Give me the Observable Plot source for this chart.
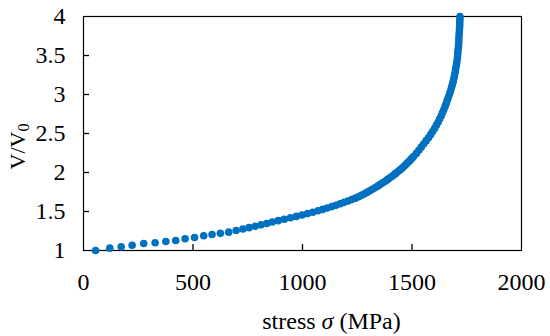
<!DOCTYPE html>
<html>
<head>
<meta charset="utf-8">
<script src="https://cdn.jsdelivr.net/npm/d3@7"></script>
<script src="https://cdn.jsdelivr.net/npm/@observablehq/plot@0.6"></script>
<style>
  html, body { margin: 0; padding: 0; background: #fff; }
</style>
</head>
<body>
<div id="chart"></div>
<script>
// Data
const stress = [55,120,172,222,275,327,376,421,464,507,549,587,625,663,697,
  728,756,784,811,837,862,889,917,945,972,998,1023,1047,1071,1092,1113,1134,1153,1172,1190,1208,1225,1242,1256,1269,
  1281,1294,1307,1319,1331,1343,1354,1365,1376,1386,1396,1406,1415,1424,1433,1442,1450,1458,1466,1473,1480,1487,1494,1501,1507,
  1520,1531,1542,1553,1564,1575,1585,1594,1603,1611,1619,1626,1633,1639,1645,1651,1656,1661,1666,1671,1676,1680,1684,1688,1691,1694,
  1697,1699,1702,1704,1706,1708,1709,1710,1712,1713,1714,1714,1715,1716,1717,1718,1718,1719,1719];
const ratio = [1.00,1.03,1.047,1.068,1.09,1.10,1.115,1.128,1.15,1.167,1.19,1.205,1.22,1.235,1.256,
  1.275,1.293,1.311,1.329,1.347,1.365,1.383,1.401,1.419,1.437,1.455,1.473,1.491,1.509,1.527,1.545,1.563,1.581,1.599,1.617,1.635,1.653,1.671,1.689,1.707,
  1.725,1.745,1.765,1.785,1.805,1.825,1.845,1.865,1.885,1.905,1.925,1.945,1.965,1.985,2.005,2.025,2.045,2.065,2.085,2.105,2.125,2.145,2.165,2.185,2.205,
  2.245,2.285,2.325,2.365,2.405,2.445,2.485,2.525,2.565,2.605,2.645,2.685,2.725,2.765,2.805,2.845,2.885,2.925,2.965,3.005,3.045,3.085,3.125,3.165,3.205,3.245,
  3.285,3.325,3.365,3.405,3.445,3.485,3.525,3.565,3.605,3.645,3.685,3.725,3.765,3.805,3.845,3.885,3.925,3.965,4.0];

const xTicks = [0, 500, 1000, 1500, 2000];
const yTicks = [1, 1.5, 2, 2.5, 3, 3.5, 4];
const xLabelParts = ["stress ", "σ", " (MPa)"];
const yLabelParts = ["V/V", "0"];

const points = stress.map((s, i) => ({stress: s, ratio: ratio[i]}));
const innerX = xTicks.slice(1, -1);
const innerY = yTicks.slice(1, -1);

const W = 550, H = 336, ML = 83, MR = 29, MT = 16, MB = 86;
const TICK = 6; // px
const xDom = [xTicks[0], xTicks[xTicks.length - 1]];
const yDom = [yTicks[0], yTicks[yTicks.length - 1]];
const tickLenX = TICK * (xDom[1] - xDom[0]) / (W - ML - MR); // y-axis tick length in x units
const tickLenY = TICK * (yDom[1] - yDom[0]) / (H - MT - MB); // x-axis tick length in y units

const plot = Plot.plot({
  width: W,
  height: H,
  marginLeft: ML,
  marginRight: MR,
  marginTop: MT,
  marginBottom: MB,
  style: {fontFamily: "'Liberation Serif', 'Times New Roman', serif", fontSize: "24px", color: "#000", background: "#fff"},
  x: {domain: xDom},
  y: {domain: yDom},
  marks: [
    Plot.ruleX(innerX, {x: d => d, y1: yDom[0], y2: yDom[0] + tickLenY, stroke: "#000", strokeWidth: 1.3}),
    Plot.ruleY(innerY, {y: d => d, x1: xDom[0], x2: xDom[0] + tickLenX, stroke: "#000", strokeWidth: 1.3}),
    Plot.axisX(xTicks, {tickSize: 0, tickPadding: 22, tickFormat: d => String(d), label: null, fontSize: 24}),
    Plot.axisY(yTicks, {tickSize: 0, tickPadding: 18, tickFormat: d => String(d), label: null, fontSize: 24}),
    Plot.frame({stroke: "#000", strokeWidth: 1.2}),
    Plot.dot(points, {x: "stress", y: "ratio", r: 3.8, fill: "#0070c0", stroke: "none"}),
    Plot.text([xLabelParts.join("")], {frameAnchor: "bottom", text: d => d, dy: 71, dx: 29, fontSize: 24, lineAnchor: "middle", textAnchor: "middle"}),
    Plot.text([yLabelParts.join("")], {frameAnchor: "left", text: d => d, dx: -66, dy: 13, rotate: -90, fontSize: 22, lineAnchor: "middle", textAnchor: "middle"})
  ]
});

// Rich text: italic sigma and subscript zero
d3.select(plot).selectAll("text").each(function() {
  const t = d3.select(this);
  if (this.textContent === xLabelParts.join("")) {
    t.text(null);
    t.append("tspan").text(xLabelParts[0]);
    t.append("tspan").attr("font-style", "italic").text(xLabelParts[1]);
    t.append("tspan").text(xLabelParts[2]);
  } else if (this.textContent === yLabelParts.join("")) {
    t.text(null);
    t.append("tspan").text(yLabelParts[0]);
    t.append("tspan").attr("font-size", "16px").attr("dy", "0.3em").text(yLabelParts[1]);
  }
});

document.getElementById("chart").appendChild(plot);
</script>
</body>
</html>
